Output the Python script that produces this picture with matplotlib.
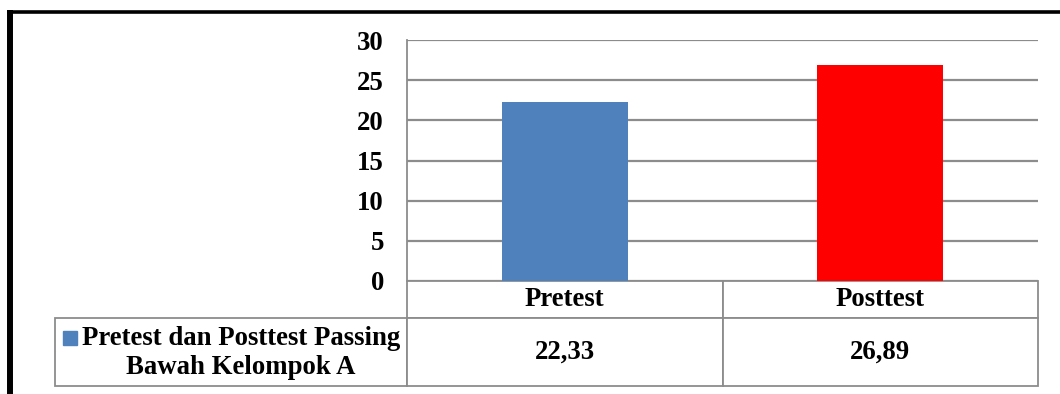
import matplotlib.pyplot as plt
from matplotlib.lines import Line2D
from matplotlib.patches import Rectangle
from matplotlib.table import Table

# data
categories = ['Pretest', 'Posttest']
values = [22.33, 26.89]
value_labels = ['22,33', '26,89']
series_name = 'Pretest dan Posttest Passing\nBawah Kelompok A'
bar_colors = ['#4F81BD', '#FF0000']
y_ticks = [0, 5, 10, 15, 20, 25, 30]

plt.rcParams['font.family'] = 'Liberation Serif'
plt.rcParams['font.weight'] = 'bold'

W, H = 1060, 394
grey = '#8c8c8c'
fs = 19.3

fig = plt.figure(figsize=(W / 100, H / 100), dpi=100)
ax = fig.add_axes([407 / W, 1 - 281 / H, (1038 - 407) / W, (281 - 40) / H])

# --- bars ---
x = range(len(categories))
ax.bar(x, values, width=0.4, color=bar_colors, zorder=3)
ax.set_xlim(-0.5, len(categories) - 0.5)
ax.set_ylim(0, 30)
ax.set_yticks(y_ticks)
ax.tick_params(axis='y', length=0, pad=16.5, labelsize=fs)
ax.set_xticks([])
ax.grid(axis='y', color=grey, linewidth=1.6, zorder=0)
for s in ['top', 'right', 'bottom']:
    ax.spines[s].set_visible(False)
ax.spines['left'].set_color(grey)
ax.spines['left'].set_linewidth(1.3)

# --- data table under the chart ---
plot_w = 1038 - 407
lab_w = (407 - 55) / plot_w
h_head = 37 / 241
h_row = 68 / 241
# bbox only covers the data columns (label column sits to its left)
tbl = Table(ax, bbox=[0, -(h_head + h_row), 1, h_head + h_row])
col_w = 1 / len(categories)
for j, cat in enumerate(categories):
    tbl.add_cell(0, j, width=col_w, height=h_head, text=cat, loc='center')
    tbl.add_cell(1, j, width=col_w, height=h_row, text=value_labels[j], loc='center')
tbl.add_cell(1, -1, width=lab_w, height=h_row, text='', loc='center')
tbl.auto_set_font_size(False)
tbl.set_fontsize(fs)
for cell in tbl.get_celld().values():
    cell.set_edgecolor(grey)
    cell.set_linewidth(1.3)
    cell.get_text().set_fontweight('bold')
tbl.set_clip_on(False)
ax.add_table(tbl)

# legend key inside the row label cell
ax.add_patch(Rectangle(((63 - 407) / plot_w, (281 - 345) / 241), 14 / plot_w, 14 / 241,
                       transform=ax.transAxes, color=bar_colors[0], clip_on=False))
ax.text((241 - 407) / plot_w, (281 - 353) / 241, series_name, transform=ax.transAxes,
        ha='center', va='center', multialignment='center', fontsize=fs,
        linespacing=1.25)

# black frame at top and left
fig.add_artist(Line2D([7 / W, 1], [1 - 11.5 / H] * 2, color='black', lw=2.6,
                      solid_capstyle='butt'))
fig.add_artist(Line2D([10 / W] * 2, [0, 1 - 10 / H], color='black', lw=4.3,
                      solid_capstyle='butt'))

fig.savefig('out.png', dpi=100)
